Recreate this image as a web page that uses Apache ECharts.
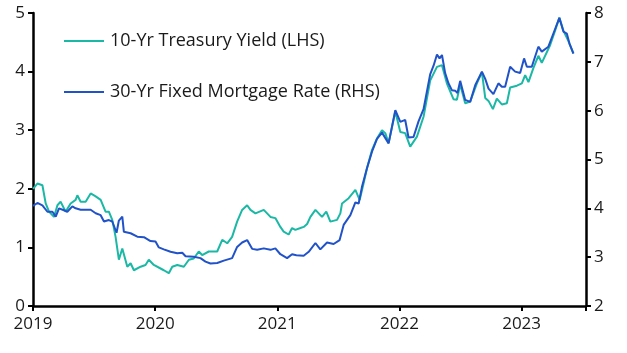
<!DOCTYPE html>
<html><head><meta charset="utf-8">
<script src="https://cdn.jsdelivr.net/npm/echarts@6/dist/echarts.min.js"></script>
<style>html,body{margin:0;padding:0;background:#fff}#c{width:627px;height:353px}</style>
</head><body><div id="c"></div>
<script>
const seriesNames = ['10-Yr Treasury Yield (LHS)', '30-Yr Fixed Mortgage Rate (RHS)'];
const xTickYears = [2019, 2020, 2021, 2022, 2023];

// 10-Yr Treasury (decimal year, %)
const treasuryT = [2019.000,2019.036,2019.077,2019.104,2019.131,2019.172,2019.200,2019.226,2019.267,2019.308,2019.349,2019.363,2019.390,2019.431,2019.472,2019.513,2019.554,2019.594,2019.621,2019.649,2019.676,2019.703,2019.731,2019.772,2019.799,2019.826,2019.881,2019.921,2019.948,2019.989,2020.044,2020.071,2020.112,2020.140,2020.181,2020.235,2020.276,2020.316,2020.357,2020.385,2020.439,2020.508,2020.549,2020.590,2020.630,2020.671,2020.712,2020.753,2020.780,2020.821,2020.889,2020.944,2020.984,2021.025,2021.052,2021.093,2021.121,2021.148,2021.189,2021.216,2021.244,2021.271,2021.312,2021.366,2021.401,2021.434,2021.489,2021.516,2021.530,2021.584,2021.639,2021.674,2021.706,2021.734,2021.775,2021.816,2021.857,2021.884,2021.911,2021.966,2022.007,2022.047,2022.088,2022.143,2022.197,2022.252,2022.307,2022.348,2022.388,2022.442,2022.470,2022.497,2022.538,2022.579,2022.634,2022.675,2022.702,2022.729,2022.765,2022.797,2022.838,2022.879,2022.906,2022.961,2023.002,2023.029,2023.056,2023.096,2023.137,2023.165,2023.233,2023.274,2023.309,2023.342,2023.383,2023.424];
const treasuryV = [2.00,2.09,2.06,1.75,1.61,1.52,1.72,1.78,1.61,1.75,1.81,1.89,1.78,1.78,1.92,1.87,1.81,1.61,1.61,1.47,1.18,0.79,0.98,0.67,0.73,0.61,0.67,0.70,0.79,0.70,0.64,0.61,0.56,0.67,0.70,0.67,0.79,0.81,0.93,0.87,0.93,0.93,1.13,1.07,1.18,1.44,1.64,1.72,1.64,1.58,1.64,1.52,1.50,1.35,1.27,1.22,1.33,1.30,1.33,1.35,1.40,1.52,1.64,1.52,1.61,1.44,1.47,1.58,1.75,1.84,1.98,1.81,2.09,2.35,2.66,2.86,3.00,2.95,2.78,3.32,2.97,2.95,2.72,2.89,3.23,3.85,4.08,4.11,3.80,3.53,3.52,3.78,3.46,3.49,3.80,3.99,3.55,3.50,3.36,3.54,3.44,3.46,3.73,3.76,3.80,3.94,3.82,4.06,4.27,4.15,4.45,4.70,4.92,4.70,4.52,4.31];

// 30-Yr Fixed Mortgage (decimal year, %)
const mortgageT = [2019.000,2019.036,2019.077,2019.118,2019.159,2019.186,2019.213,2019.253,2019.281,2019.322,2019.349,2019.390,2019.472,2019.513,2019.554,2019.581,2019.621,2019.649,2019.684,2019.703,2019.731,2019.744,2019.799,2019.854,2019.908,2019.962,2020.003,2020.030,2020.071,2020.126,2020.181,2020.222,2020.249,2020.316,2020.371,2020.412,2020.453,2020.508,2020.562,2020.630,2020.671,2020.712,2020.753,2020.794,2020.835,2020.889,2020.944,2020.984,2021.025,2021.080,2021.121,2021.156,2021.216,2021.257,2021.312,2021.352,2021.407,2021.461,2021.510,2021.543,2021.598,2021.639,2021.666,2021.693,2021.734,2021.775,2021.816,2021.857,2021.911,2021.966,2022.007,2022.047,2022.074,2022.115,2022.156,2022.197,2022.252,2022.279,2022.307,2022.328,2022.348,2022.374,2022.401,2022.429,2022.456,2022.475,2022.497,2022.538,2022.579,2022.620,2022.675,2022.702,2022.729,2022.769,2022.810,2022.838,2022.865,2022.906,2022.947,2022.988,2023.020,2023.043,2023.083,2023.137,2023.165,2023.219,2023.260,2023.309,2023.342,2023.370,2023.391,2023.424];
const mortgageV = [4.05,4.11,4.06,3.93,3.93,3.83,4.00,3.96,3.93,4.04,4.00,3.97,3.97,3.90,3.86,3.73,3.76,3.73,3.50,3.75,3.83,3.52,3.49,3.42,3.41,3.33,3.32,3.20,3.16,3.11,3.08,3.09,3.02,3.01,2.98,2.91,2.87,2.88,2.93,2.98,3.21,3.30,3.35,3.17,3.15,3.18,3.15,3.18,3.06,2.98,3.06,3.04,3.03,3.11,3.29,3.16,3.30,3.27,3.35,3.66,3.86,4.12,4.10,4.44,4.82,5.16,5.42,5.55,5.33,6.01,5.77,5.81,5.45,5.46,5.78,6.03,6.75,6.92,7.15,7.07,7.14,6.77,6.56,6.42,6.41,6.36,6.61,6.22,6.18,6.52,6.80,6.65,6.45,6.34,6.56,6.49,6.49,6.90,6.80,6.77,7.07,6.90,6.90,7.31,7.21,7.31,7.58,7.90,7.62,7.58,7.38,7.17];

const pair = (t, v) => t.map((x, i) => [x, v[i]]);
const FONT = 'Open Sans';
const chart = echarts.init(document.getElementById('c'));
chart.setOption({
  animation: false,
  backgroundColor: '#fff',
  grid: { left: 33, right: 41, top: 13, bottom: 47 },
  legend: {
    orient: 'vertical', left: 64, top: 32, padding: 0, itemGap: 33,
    icon: 'rect', itemWidth: 40, itemHeight: 2,
    textStyle: { fontFamily: FONT, fontSize: 18, color: '#1a1a1a', padding: [0, 0, 0, 1] },
    data: seriesNames
  },
  xAxis: {
    type: 'value', min: 2019, max: 2023.527, interval: 1,
    axisLine: { lineStyle: { color: '#000', width: 2.5 } },
    axisTick: { show: true, length: 5, lineStyle: { color: '#000', width: 2 } },
    axisLabel: { fontFamily: FONT, fontSize: 17, color: '#1a1a1a', margin: 10,
      formatter: v => xTickYears.includes(Math.round(v)) ? String(Math.round(v)) : '' },
    splitLine: { show: false }
  },
  yAxis: [
    { type: 'value', min: 0, max: 5, interval: 1, position: 'left',
      axisLine: { show: true, lineStyle: { color: '#000', width: 2.5 } },
      axisTick: { show: true, length: 5, lineStyle: { color: '#000', width: 2 } },
      axisLabel: { fontFamily: FONT, fontSize: 17, color: '#1a1a1a', margin: 8 },
      splitLine: { show: false } },
    { type: 'value', min: 2, max: 8, interval: 1, position: 'right',
      axisLine: { show: true, lineStyle: { color: '#000', width: 2.5 } },
      axisTick: { show: true, length: 5, lineStyle: { color: '#000', width: 2 } },
      axisLabel: { fontFamily: FONT, fontSize: 17, color: '#1a1a1a', margin: 8 },
      splitLine: { show: false } }
  ],
  series: [
    { name: seriesNames[0], type: 'line', yAxisIndex: 0, data: pair(treasuryT, treasuryV),
      symbol: 'none', lineStyle: { color: '#1bb8a6', width: 2 }, itemStyle: { color: '#1bb8a6' } },
    { name: seriesNames[1], type: 'line', yAxisIndex: 1, data: pair(mortgageT, mortgageV),
      symbol: 'none', lineStyle: { color: '#2152c8', width: 2 }, itemStyle: { color: '#2152c8' } }
  ]
});
</script></body></html>
